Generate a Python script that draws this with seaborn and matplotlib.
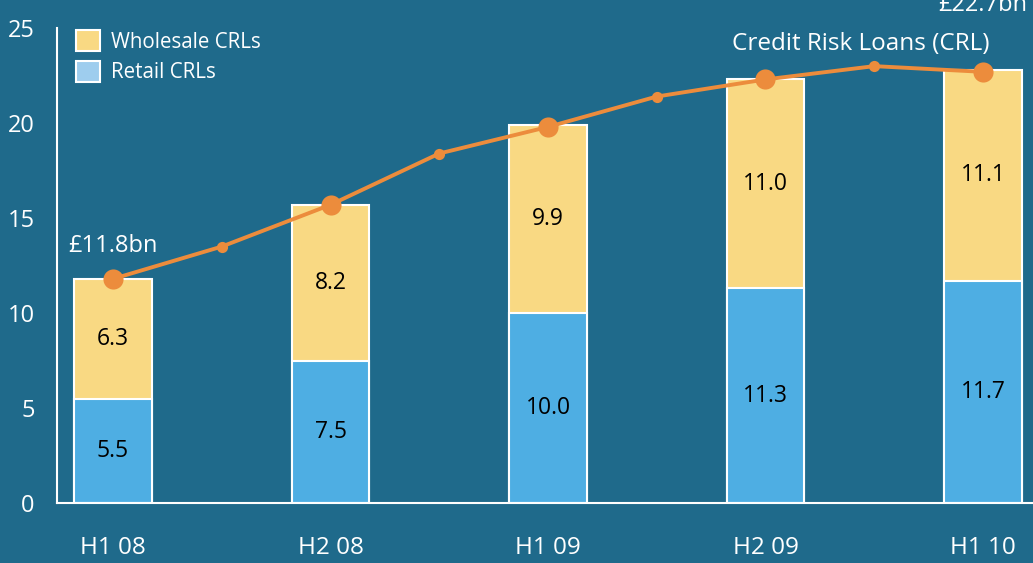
import pandas as pd
import seaborn as sns
import matplotlib.pyplot as plt
from matplotlib.patches import Patch

# Data
periods = ['H1 08', 'H2 08', 'H1 09', 'H2 09', 'H1 10']
retail = [5.5, 7.5, 10.0, 11.3, 11.7]
wholesale = [6.3, 8.2, 9.9, 11.0, 11.1]
crl_steps = [0, 1, 2, 3, 4, 5, 6, 7, 8]
crl_total = [11.8, 13.5, 15.7, 18.4, 19.8, 21.4, 22.3, 23.0, 22.7]

bg = '#1f6a8b'
c_whole = '#f9d983'
c_retail = '#4eaee3'
c_line = '#ec8c3c'

sns.set_theme(style='white')
plt.rcParams['font.family'] = ['Open Sans', 'DejaVu Sans']

bars = pd.DataFrame({'pos': [0, 2, 4, 6, 8], 'retail': retail, 'wholesale': wholesale})
bars['total'] = bars['retail'] + bars['wholesale']
line = pd.DataFrame({'step': crl_steps, 'crl': crl_total})

fig = plt.figure(figsize=(10.33, 5.63), dpi=100, facecolor=bg)
ax = fig.add_axes([0.0552, 0.1066, 0.9448, 0.8434])
ax.set_facecolor(bg)

# stacked bars: totals in wholesale colour, retail drawn over them
sns.barplot(x='pos', y='total', data=bars, native_scale=True, width=0.355,
            color=c_whole, saturation=1, edgecolor='white', linewidth=1.5, ax=ax)
sns.barplot(x='pos', y='retail', data=bars, native_scale=True, width=0.355,
            color=c_retail, saturation=1, edgecolor='white', linewidth=1.5, ax=ax)

for _, row in bars.iterrows():
    ax.text(row['pos'], row['retail'] / 2, f"{row['retail']:.1f}", ha='center', va='center',
            fontsize=16.5, color='black')
    ax.text(row['pos'], row['retail'] + row['wholesale'] / 2, f"{row['wholesale']:.1f}",
            ha='center', va='center', fontsize=16.5, color='black')

# CRL line
sns.lineplot(x='step', y='crl', data=line, color=c_line, linewidth=2.8, ax=ax, zorder=5)
big = line[line['step'] % 2 == 0]
small = line[line['step'] % 2 == 1]
sns.scatterplot(x='step', y='crl', data=big, color=c_line, s=210, linewidth=0, ax=ax, zorder=6)
sns.scatterplot(x='step', y='crl', data=small, color=c_line, s=65, linewidth=0, ax=ax, zorder=6)

ax.text(0, 12.9, '£11.8bn', ha='center', va='bottom', fontsize=17, color='white')
ax.text(8, 25.6, '£22.7bn', ha='center', va='bottom', fontsize=17, color='white', clip_on=False)
ax.text(6.88, 23.55, 'Credit Risk Loans (CRL)', ha='center', va='bottom', fontsize=17.5,
        color='white')

ax.set_xlim(-0.515, 8.46)
ax.set_ylim(0, 25)
ax.set_xticks(crl_steps)
ax.set_xticklabels([periods[0], '', periods[1], '', periods[2], '', periods[3], '', periods[4]])
ax.set_yticks([0, 5, 10, 15, 20, 25])
ax.set_xlabel('')
ax.set_ylabel('')

for s in ['top', 'right']:
    ax.spines[s].set_visible(False)
for s in ['left', 'bottom']:
    ax.spines[s].set_color('white')
    ax.spines[s].set_linewidth(1.5)
ax.tick_params(axis='both', colors='white', direction='out', length=6, width=1.5, labelsize=17.5)
ax.tick_params(axis='x', pad=18)
ax.tick_params(axis='y', pad=10, labelsize=17)

handles = [Patch(facecolor=c_whole, edgecolor='white', linewidth=1.5, label='Wholesale CRLs'),
           Patch(facecolor='#9ecdee', edgecolor='white', linewidth=1.5, label='Retail CRLs')]
leg = ax.legend(handles=handles, loc='upper left', bbox_to_anchor=(0.0, 1.035), frameon=False,
                fontsize=14.8, labelcolor='white', handlelength=1.2, handleheight=1.2,
                handletextpad=0.55, labelspacing=0.4)

fig.savefig('out.png', dpi=100, facecolor=bg)
